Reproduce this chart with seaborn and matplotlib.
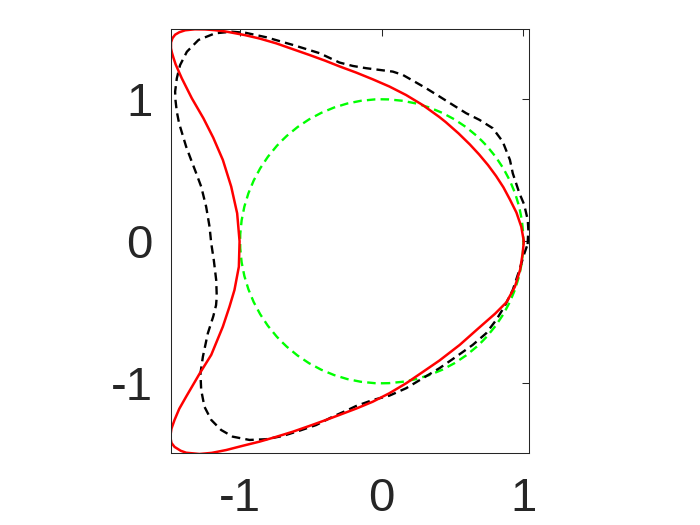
import numpy as np
import pandas as pd
import matplotlib
matplotlib.use("Agg")
import matplotlib.pyplot as plt
from matplotlib.patches import Circle
import seaborn as sns

# red solid curve (counterclockwise from the right)
red_x = [1.003, 0.985, 0.951, 0.905, 0.859, 0.807, 0.750, 0.687, 0.622, 0.542,
         0.451, 0.407, 0.290, 0.172, 0.054, -0.064, -0.180, -0.299, -0.400, -0.510,
         -0.628, -0.745, -0.863, -0.966, -1.040, -1.106, -1.180, -1.247, -1.320, -1.388,
         -1.430, -1.459, -1.478, -1.488, -1.488, -1.482, -1.470, -1.455, -1.412, -1.341,
         -1.259, -1.190, -1.122, -1.063, -1.021, -1.004, -1.009, -1.040, -1.075, -1.122,
         -1.204, -1.285, -1.381, -1.430, -1.463, -1.485, -1.493, -1.485, -1.463, -1.420,
         -1.381, -1.287, -1.200, -1.098, -0.981, -0.863, -0.745, -0.628, -0.510, -0.393,
         -0.299, -0.180, -0.064, 0.054, 0.172, 0.290, 0.407, 0.550, 0.680, 0.800,
         0.880, 0.940, 0.977, 0.995, 1.003]
red_y = [0.000, 0.103, 0.202, 0.294, 0.380, 0.460, 0.537, 0.612, 0.682, 0.760,
         0.840, 0.875, 0.959, 1.030, 1.090, 1.141, 1.188, 1.232, 1.272, 1.312,
         1.353, 1.394, 1.428, 1.452, 1.466, 1.478, 1.487, 1.492, 1.493, 1.486,
         1.472, 1.455, 1.430, 1.400, 1.360, 1.330, 1.290, 1.245, 1.148, 1.007,
         0.866, 0.730, 0.573, 0.385, 0.197, 0.000, -0.179, -0.343, -0.460, -0.601,
         -0.800, -0.930, -1.094, -1.180, -1.258, -1.320, -1.376, -1.420, -1.448, -1.475,
         -1.489, -1.498, -1.490, -1.470, -1.440, -1.411, -1.377, -1.341, -1.300, -1.258,
         -1.223, -1.178, -1.130, -1.070, -1.000, -0.920, -0.840, -0.730, -0.615, -0.510,
         -0.430, -0.320, -0.200, -0.085, 0.000]

# black dashed curve
black_x = [1.030, 1.035, 1.031, 1.005, 0.972, 0.925, 0.905, 0.854, 0.784, 0.690,
           0.596, 0.501, 0.407, 0.313, 0.231, 0.148, 0.078, -0.016, -0.110, -0.205,
           -0.299, -0.440, -0.628, -0.816, -0.960, -1.059, -1.176, -1.294, -1.376, -1.424,
           -1.447, -1.459, -1.456, -1.447, -1.431, -1.381, -1.346, -1.310, -1.275, -1.240,
           -1.216, -1.204, -1.186, -1.169, -1.165, -1.170, -1.190, -1.228, -1.263, -1.280,
           -1.275, -1.252, -1.204, -1.134, -1.052, -0.934, -0.816, -0.699, -0.581, -0.463,
           -0.346, -0.240, -0.181, -0.064, 0.054, 0.172, 0.289, 0.407, 0.525, 0.642,
           0.737, 0.808, 0.866, 0.925, 0.972, 1.007, 1.030]
black_y = [-0.020, 0.080, 0.150, 0.260, 0.338, 0.479, 0.573, 0.702, 0.796, 0.855,
           0.902, 0.961, 1.020, 1.078, 1.125, 1.172, 1.195, 1.207, 1.219, 1.235,
           1.259, 1.325, 1.383, 1.437, 1.468, 1.476, 1.465, 1.418, 1.335, 1.241,
           1.148, 1.054, 0.990, 0.913, 0.831, 0.666, 0.573, 0.479, 0.385, 0.244,
           0.103, -0.014, -0.132, -0.273, -0.390, -0.450, -0.530, -0.648, -0.813, -0.930,
           -1.047, -1.165, -1.258, -1.329, -1.376, -1.399, -1.394, -1.371, -1.334, -1.294,
           -1.235, -1.188, -1.160, -1.118, -1.087, -1.035, -0.965, -0.894, -0.813, -0.730,
           -0.648, -0.554, -0.460, -0.343, -0.202, -0.085, -0.020]

# green dashed unit circle
circle_center = (0.0, 0.0)
circle_radius = 1.0

ticks = [-1, 0, 1]
x_limits = (-1.49, 1.042)
y_limits = (-1.493, 1.493)

sns.set_style("white")
plt.rcParams['font.family'] = ['Liberation Sans', 'DejaVu Sans']
plt.rcParams['axes.unicode_minus'] = False

fig = plt.figure(figsize=(7, 5.25), dpi=100)
ax = fig.add_axes([0.2439, 0.1366, 0.5123, 0.8076])

dash = (0, (3.6, 2.2))
ax.add_patch(Circle(circle_center, circle_radius, fill=False, edgecolor='#00ff00',
                    linestyle=dash, linewidth=1.7))

df_black = pd.DataFrame({'x': black_x, 'y': black_y})
sns.lineplot(data=df_black, x='x', y='y', sort=False, estimator=None, ax=ax,
             color='black', linewidth=1.7, linestyle=dash)

df_red = pd.DataFrame({'x': red_x, 'y': red_y})
sns.lineplot(data=df_red, x='x', y='y', sort=False, estimator=None, ax=ax,
             color='red', linewidth=1.8)

ax.set_xlim(*x_limits)
ax.set_ylim(*y_limits)
ax.set_xticks(ticks)
ax.set_yticks(ticks)
ax.set_xticklabels([str(t) for t in ticks])
ax.set_yticklabels([str(t) for t in ticks])
ax.set_xlabel('')
ax.set_ylabel('')
ax.tick_params(direction='in', length=5, width=0.75, colors='#262626',
               labelsize=34, top=True, right=True)
ax.tick_params(axis='x', pad=17)
ax.tick_params(axis='y', pad=13)
for s in ax.spines.values():
    s.set_color('#262626')
    s.set_linewidth(0.75)

fig.savefig('out.png', dpi=100)
